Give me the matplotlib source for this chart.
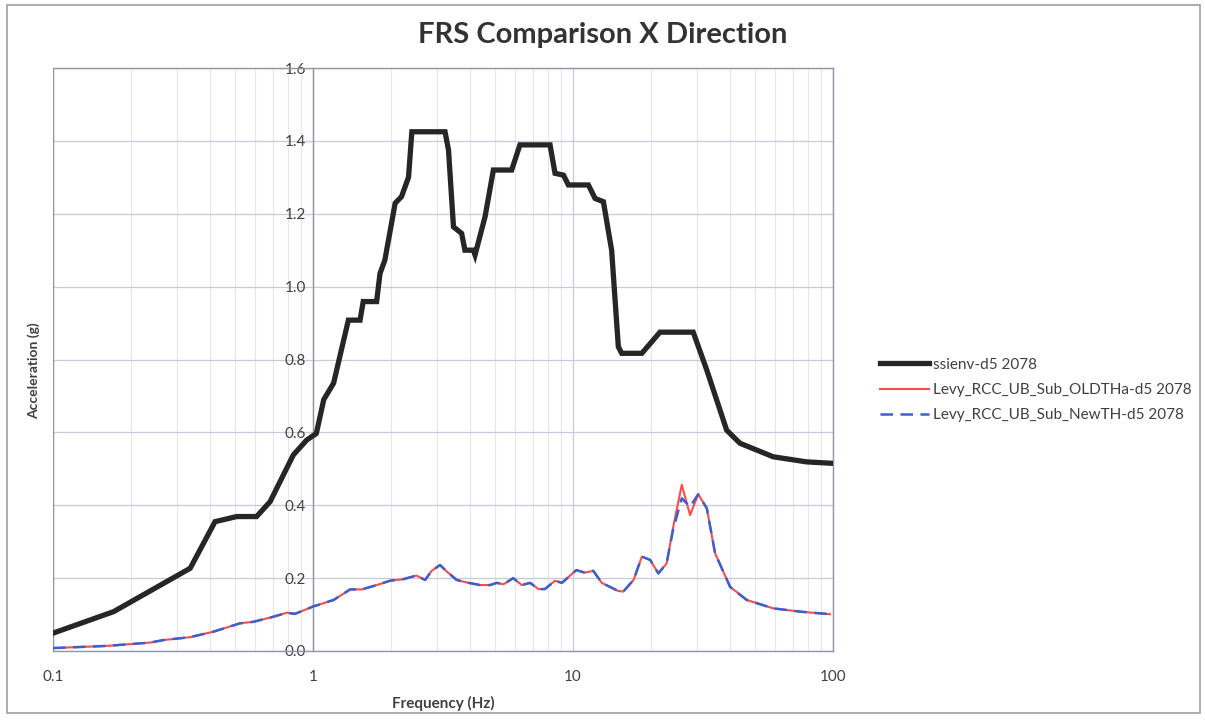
import matplotlib
matplotlib.use("Agg")
import matplotlib.pyplot as plt
from matplotlib.patches import Rectangle
from matplotlib.ticker import LogLocator, FixedLocator, NullFormatter, FuncFormatter

plt.rcParams['font.family'] = ['Lato', 'DejaVu Sans']

# ssienv-d5 2078 spectrum
freq_ssi = [0.1, 0.171, 0.337, 0.42, 0.509, 0.607, 0.684, 0.84, 0.946, 1.03,
            1.10, 1.20, 1.368, 1.517, 1.56, 1.757, 1.81, 1.89, 2.07, 2.19,
            2.33, 2.40, 3.22, 3.32, 3.47, 3.73, 3.84, 4.14, 4.20, 4.59,
            4.94, 5.81, 6.25, 8.16, 8.53, 9.19, 9.60, 11.46, 12.16, 13.09,
            14.08, 14.94, 15.39, 18.4, 21.6, 29.0, 32.7, 39.0, 43.9, 58.9,
            79.2, 100]
acc_ssi = [0.049, 0.108, 0.227, 0.355, 0.369, 0.369, 0.41, 0.538, 0.579, 0.597,
           0.69, 0.735, 0.908, 0.908, 0.959, 0.959, 1.036, 1.073, 1.229, 1.247,
           1.30, 1.425, 1.425, 1.375, 1.164, 1.146, 1.10, 1.10, 1.087, 1.192,
           1.32, 1.32, 1.389, 1.389, 1.311, 1.306, 1.279, 1.279, 1.242, 1.233,
           1.10, 0.835, 0.817, 0.817, 0.875, 0.875, 0.771, 0.606, 0.570, 0.533,
           0.519, 0.515]

# Levy runs (old and new time histories)
freq_levy = [0.1, 0.161, 0.236, 0.266, 0.337, 0.414, 0.524, 0.589, 0.704, 0.792,
             0.853, 1.0, 1.20, 1.39, 1.54, 1.76, 1.98, 2.22, 2.50, 2.70,
             2.86, 3.08, 3.27, 3.57, 3.90, 4.39, 4.80, 5.09, 5.40, 5.89,
             6.35, 6.84, 7.36, 7.80, 8.53, 9.06, 10.3, 11.1, 11.97, 12.9,
             14.9, 15.6, 17.1, 18.4, 19.8, 21.3, 22.9, 24.3, 26.2, 28.2,
             30.3, 32.7, 35.2, 40.2, 46.6, 58.9, 74.7, 97.3]
acc_old = [0.008, 0.014, 0.023, 0.030, 0.038, 0.053, 0.076, 0.080, 0.094, 0.105,
           0.102, 0.122, 0.140, 0.169, 0.169, 0.181, 0.193, 0.197, 0.207, 0.195,
           0.220, 0.236, 0.218, 0.195, 0.188, 0.181, 0.181, 0.187, 0.183, 0.200,
           0.181, 0.187, 0.170, 0.170, 0.193, 0.187, 0.222, 0.215, 0.220, 0.187,
           0.165, 0.163, 0.195, 0.259, 0.250, 0.213, 0.240, 0.341, 0.456, 0.373,
           0.430, 0.392, 0.268, 0.176, 0.140, 0.117, 0.108, 0.101]
acc_new = [0.008, 0.014, 0.023, 0.030, 0.038, 0.053, 0.076, 0.080, 0.094, 0.105,
           0.102, 0.122, 0.140, 0.169, 0.169, 0.181, 0.193, 0.197, 0.207, 0.195,
           0.220, 0.236, 0.218, 0.195, 0.188, 0.181, 0.181, 0.187, 0.183, 0.200,
           0.181, 0.187, 0.170, 0.170, 0.193, 0.187, 0.222, 0.215, 0.220, 0.187,
           0.165, 0.163, 0.195, 0.259, 0.250, 0.213, 0.240, 0.335, 0.419, 0.396,
           0.430, 0.392, 0.268, 0.176, 0.140, 0.117, 0.108, 0.101]

y_ticks = [0.0, 0.2, 0.4, 0.6, 0.8, 1.0, 1.2, 1.4, 1.6]

W, H = 1205, 727
fig = plt.figure(figsize=(W / 100, H / 100), dpi=100)
fig.patch.set_facecolor('white')

# chart area frame
fig.patches.append(Rectangle((7 / W, 1 - 713 / H), 1193 / W, 708 / H,
                             transform=fig.transFigure, fill=False,
                             edgecolor='#a0a0a0', linewidth=1.2))

ax = fig.add_axes([53 / W, 1 - 651 / H, 780 / W, 583 / H])
ax.set_xscale('log')
ax.set_xlim(0.1, 100)
ax.set_ylim(0, 1.6)

ax.plot(freq_ssi, acc_ssi, color='#262626', lw=3.8, solid_joinstyle='miter',
        label='ssienv-d5 2078', zorder=3)
ax.plot(freq_levy, acc_old, color='#ff4a4a', lw=1.5,
        label='Levy_RCC_UB_Sub_OLDTHa-d5 2078', zorder=4)
ax.plot(freq_levy, acc_new, color='#3a5fd0', lw=1.8, dashes=(5, 3),
        label='Levy_RCC_UB_Sub_NewTH-d5 2078', zorder=5)

# grid
ax.xaxis.set_major_locator(LogLocator(base=10))
ax.xaxis.set_minor_locator(LogLocator(base=10, subs=range(2, 10)))
ax.xaxis.set_minor_formatter(NullFormatter())
ax.xaxis.set_major_formatter(FuncFormatter(lambda v, p: f'{v:g}'))
ax.yaxis.set_major_locator(FixedLocator(y_ticks))
ax.yaxis.set_major_formatter(FuncFormatter(lambda v, p: f'{v:.1f}'))
ax.grid(which='major', axis='both', color='#c6cbdc', lw=0.9)
ax.grid(which='minor', axis='x', color='#e6e6ec', lw=0.8)
ax.set_axisbelow(True)

# value axis crosses at 1 Hz
ax.spines['left'].set_position(('data', 1))
for s in ['left', 'bottom', 'top', 'right']:
    ax.spines[s].set_color('#9096a8')
    ax.spines[s].set_linewidth(1.0)
ax.axvline(0.1, color='#9096a8', lw=1.0, zorder=1)

ax.tick_params(axis='y', length=0, pad=5, labelsize=11, labelcolor='#404040')
ax.tick_params(axis='x', which='major', length=0, pad=14, labelsize=11,
               labelcolor='#404040')
ax.tick_params(axis='x', which='minor', length=0)

ax.set_xlabel('Frequency (Hz)', fontsize=11, fontweight='bold',
              color='#404040', labelpad=8)
ax.set_ylabel('Acceleration (g)', fontsize=10, fontweight='bold',
              color='#404040')
ax.yaxis.set_label_coords(-0.017, 0.48)

fig.text(603 / W, 1 - 35 / H, 'FRS Comparison X Direction', ha='center',
         va='center', fontsize=21, fontweight='bold', color='#333333')

leg = ax.legend(loc='center left', bbox_to_anchor=(872 / W, 1 - 390 / H),
                bbox_transform=fig.transFigure, frameon=False, fontsize=11,
                handlelength=3.2, handletextpad=0.3, labelspacing=0.75,
                borderpad=0)
for t in leg.get_texts():
    t.set_color('#404040')

fig.savefig('out.png', dpi=100)
